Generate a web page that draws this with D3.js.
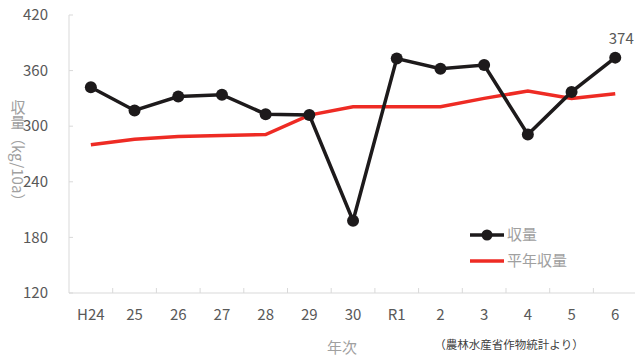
<!DOCTYPE html>
<html lang="ja">
<head>
<meta charset="utf-8">
<title>収量</title>
<script src="https://cdn.jsdelivr.net/npm/d3@7"></script>
<style>
  body { margin: 0; background: #fff; }
  text { font-family: "Noto Sans CJK JP", "Open Sans", sans-serif; }
</style>
</head>
<body>
<script>
// data
var years = ["H24", "25", "26", "27", "28", "29", "30", "R1", "2", "3", "4", "5", "6"];
var yieldVals = [342, 317, 332, 334, 313, 312, 198, 373, 362, 366, 291, 337, 374];
var normalVals = [280, 286, 289, 290, 291, 312, 321, 321, 321, 330, 338, 330, 335];
var yTicks = [120, 180, 240, 300, 360, 420];

var w = 635, h = 356;
var plotLeft = 69, plotTop = 15, plotBottom = 293;
var step = 43.7;

var svg = d3.select("body").append("svg")
  .attr("width", w).attr("height", h);

var x = d3.scaleBand()
  .domain(years)
  .range([plotLeft, plotLeft + step * years.length])
  .padding(0);

var y = d3.scaleLinear()
  .domain([120, 420])
  .range([plotBottom, plotTop]);

var axisCol = "#d9d9d9";
var textCol = "#595959";

// y axis
svg.append("line")
  .attr("x1", plotLeft).attr("x2", plotLeft)
  .attr("y1", y(420)).attr("y2", y(120))
  .attr("stroke", axisCol).attr("stroke-width", 1);
svg.selectAll(".ytick").data(yTicks).enter().append("line")
  .attr("x1", plotLeft).attr("x2", plotLeft + 4)
  .attr("y1", function(d) { return y(d); })
  .attr("y2", function(d) { return y(d); })
  .attr("stroke", axisCol);
svg.selectAll(".ylab").data(yTicks).enter().append("text")
  .attr("x", 48)
  .attr("y", function(d) { return y(d); })
  .attr("dy", "0.35em")
  .attr("text-anchor", "end")
  .attr("fill", textCol)
  .style("font-size", "15px")
  .text(function(d) { return d; });

// x axis
svg.append("line")
  .attr("x1", plotLeft).attr("x2", w)
  .attr("y1", plotBottom).attr("y2", plotBottom)
  .attr("stroke", axisCol);
svg.selectAll(".xtick").data(years.slice(1)).enter().append("line")
  .attr("x1", function(d) { return x(d); })
  .attr("x2", function(d) { return x(d); })
  .attr("y1", plotBottom).attr("y2", plotBottom - 5)
  .attr("stroke", axisCol);
svg.selectAll(".xlab").data(years).enter().append("text")
  .attr("x", function(d) { return x(d) + x.bandwidth() / 2; })
  .attr("y", 315)
  .attr("dy", "0.35em")
  .attr("text-anchor", "middle")
  .attr("fill", textCol)
  .style("font-size", "15px")
  .text(function(d) { return d; });

// axis titles (vertical writing, latin part turned sideways)
var titleCol = "#a0a0a0";
svg.append("text")
  .attr("x", 18).attr("y", 100)
  .style("writing-mode", "vertical-rl")
  .attr("fill", titleCol)
  .style("font-size", "15px")
  .text("収量（kg/10a）");

svg.append("text").attr("x", 342).attr("y", 348).attr("dy", "0.35em")
  .attr("text-anchor", "middle").attr("fill", titleCol)
  .style("font-size", "15px").text("年次");
svg.append("text").attr("x", 509).attr("y", 345).attr("dy", "0.35em")
  .attr("text-anchor", "middle").attr("fill", "#404040")
  .style("font-size", "11.5px").text("（農林水産省作物統計より）");

var cx = function(d, i) { return x(years[i]) + x.bandwidth() / 2; };

// normal yield line
var redCol = "#ee2b24";
var blackCol = "#1d1a1b";
svg.append("path")
  .datum(normalVals)
  .attr("d", d3.line().x(cx).y(function(d) { return y(d); }))
  .attr("fill", "none").attr("stroke", redCol).attr("stroke-width", 3.5);

// yield line
svg.append("path")
  .datum(yieldVals)
  .attr("d", d3.line().x(cx).y(function(d) { return y(d); }))
  .attr("fill", "none").attr("stroke", blackCol).attr("stroke-width", 3.5);
svg.selectAll(".pt").data(yieldVals).enter().append("circle")
  .attr("cx", cx)
  .attr("cy", function(d) { return y(d); })
  .attr("r", 6)
  .attr("fill", blackCol);

// last value label
var last = yieldVals.length - 1;
svg.append("text")
  .attr("x", cx(null, last) + 6)
  .attr("y", y(yieldVals[last]) - 19)
  .attr("dy", "0.35em")
  .attr("text-anchor", "middle")
  .attr("fill", textCol)
  .style("font-size", "15px")
  .text(yieldVals[last]);

// legend
var lg = svg.append("g");
lg.append("line").attr("x1", 470).attr("x2", 504).attr("y1", 235).attr("y2", 235)
  .attr("stroke", blackCol).attr("stroke-width", 3.5);
lg.append("circle").attr("cx", 487).attr("cy", 235).attr("r", 5.5).attr("fill", blackCol);
lg.append("text").attr("x", 507).attr("y", 235).attr("dy", "0.35em")
  .attr("fill", titleCol).style("font-size", "15px").text("収量");
lg.append("line").attr("x1", 470).attr("x2", 504).attr("y1", 261).attr("y2", 261)
  .attr("stroke", redCol).attr("stroke-width", 3.5);
lg.append("text").attr("x", 507).attr("y", 261).attr("dy", "0.35em")
  .attr("fill", titleCol).style("font-size", "15px").text("平年収量");
</script>
</body>
</html>
